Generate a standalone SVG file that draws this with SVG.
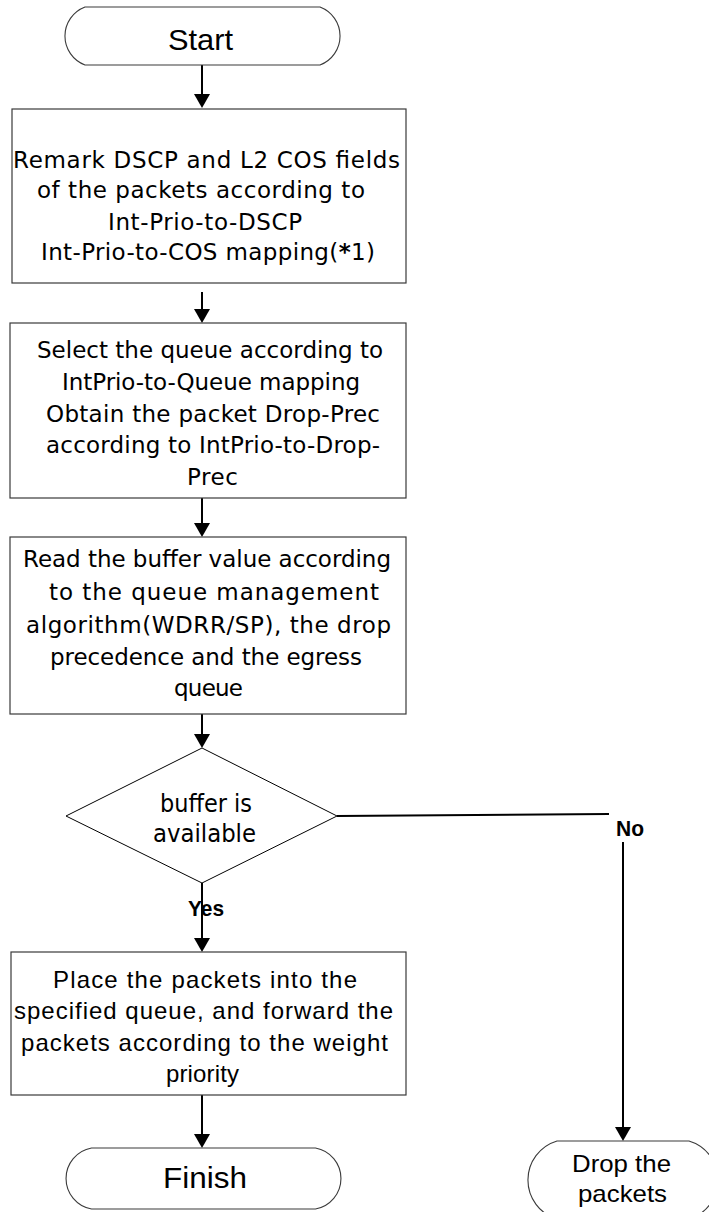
<svg xmlns="http://www.w3.org/2000/svg" width="709" height="1212" viewBox="0 0 709 1212">
<style>
.box{fill:#fff;stroke:#3a3a3a;stroke-width:1.2}
.term{fill:#fff;stroke:#3a3a3a;stroke-width:1.1}
.dia{fill:#fff;stroke:#000;stroke-width:1}
.con{fill:none;stroke:#000;stroke-width:2}
.dv{font-family:"DejaVu Sans",sans-serif;font-size:23px;fill:#000}
.dd{font-family:"DejaVu Sans",sans-serif;font-size:24px;fill:#000}
.ls{font-family:"Liberation Sans",Arial,sans-serif;font-size:24px;fill:#000}
.big{font-family:"Liberation Sans",Arial,sans-serif;font-size:30px;fill:#000}
.lbl{font-family:"Liberation Sans",Arial,sans-serif;font-size:22px;font-weight:bold;fill:#000}
</style>
<defs>
<marker id="arr" viewBox="0 0 14 16" refX="12" refY="8" markerWidth="14" markerHeight="16" markerUnits="userSpaceOnUse" orient="auto">
<path d="M0,0 L14,8 L0,16 Z" fill="#000"/>
</marker>
</defs>
<rect width="709" height="1212" fill="#fff"/>

<g id="connectors">
<line class="con" x1="202" y1="65" x2="202" y2="106" marker-end="url(#arr)"/>
<line class="con" x1="202" y1="292" x2="202" y2="321" marker-end="url(#arr)"/>
<line class="con" x1="202" y1="498" x2="202" y2="535" marker-end="url(#arr)"/>
<line class="con" x1="202" y1="714" x2="202" y2="746" marker-end="url(#arr)"/>
<line class="con" x1="202" y1="883" x2="202" y2="950" marker-end="url(#arr)"/>
<line class="con" x1="202" y1="1095" x2="202" y2="1146" marker-end="url(#arr)"/>
<line class="con" x1="337" y1="816" x2="609" y2="814"/>
<line class="con" x1="623" y1="842" x2="623" y2="1139" marker-end="url(#arr)"/>
<text class="lbl" x="188" y="916" textLength="36" lengthAdjust="spacingAndGlyphs">Yes</text>
<text class="lbl" x="616" y="836" textLength="28" lengthAdjust="spacingAndGlyphs">No</text>
</g>

<g id="start">
<path class="term" d="M85,7 H320 A31,31 0 0 1 320,65 H85 A31,31 0 0 1 85,7 Z"/>
<text class="big" x="168" y="50" textLength="65" lengthAdjust="spacingAndGlyphs">Start</text>
</g>

<g id="remark">
<rect class="box" x="12" y="109" width="394" height="174"/>
<text class="dv" x="13" y="168" textLength="387" lengthAdjust="spacing">Remark DSCP and L2 COS fields</text>
<text class="dv" x="37" y="198" textLength="328" lengthAdjust="spacing">of the packets according to</text>
<text class="dv" x="108" y="230" textLength="194" lengthAdjust="spacing">Int-Prio-to-DSCP</text>
<text class="dv" x="41" y="260" textLength="334" lengthAdjust="spacing">Int-Prio-to-COS mapping(<tspan font-weight="bold">*</tspan>1)</text>
</g>

<g id="select">
<rect class="box" x="10" y="323" width="396" height="175"/>
<text class="dv" x="37" y="358" textLength="346" lengthAdjust="spacing">Select the queue according to</text>
<text class="dv" x="62" y="390" textLength="298" lengthAdjust="spacing">IntPrio-to-Queue mapping</text>
<text class="dv" x="46" y="422" textLength="334" lengthAdjust="spacing">Obtain the packet Drop-Prec</text>
<text class="dv" x="46" y="453" textLength="334" lengthAdjust="spacing">according to IntPrio-to-Drop-</text>
<text class="dv" x="187" y="485" textLength="51" lengthAdjust="spacing">Prec</text>
</g>

<g id="read">
<rect class="box" x="10" y="537" width="396" height="177"/>
<text class="dv" x="23" y="567" textLength="368" lengthAdjust="spacing">Read the buffer value according</text>
<text class="dv" x="49" y="600" textLength="330" lengthAdjust="spacing">to the queue management</text>
<text class="dv" x="26" y="633" textLength="365" lengthAdjust="spacing">algorithm(WDRR/SP), the drop</text>
<text class="dv" x="50" y="665" textLength="312" lengthAdjust="spacing">precedence and the egress</text>
<text class="dv" x="174" y="696" textLength="69" lengthAdjust="spacing">queue</text>
</g>

<g id="decision">
<polygon class="dia" points="202,748 337,816 202,883 66,816"/>
<text class="dd" x="160" y="812" textLength="92" lengthAdjust="spacingAndGlyphs">buffer is</text>
<text class="dd" x="153" y="842" textLength="103" lengthAdjust="spacingAndGlyphs">available</text>
</g>

<g id="place">
<rect class="box" x="11" y="952" width="395" height="143"/>
<text class="ls" x="53" y="988" textLength="304" lengthAdjust="spacing">Place the packets into the</text>
<text class="ls" x="14" y="1019" textLength="379" lengthAdjust="spacing">specified queue, and forward the</text>
<text class="ls" x="21" y="1051" textLength="367" lengthAdjust="spacing">packets according to the weight</text>
<text class="ls" x="166" y="1082" textLength="73" lengthAdjust="spacing">priority</text>
</g>

<g id="finish">
<path class="term" d="M91.5,1148 H315.5 A31,31 0 0 1 315.5,1209 H91.5 A31,31 0 0 1 91.5,1148 Z"/>
<text class="big" x="163" y="1188" textLength="84" lengthAdjust="spacingAndGlyphs">Finish</text>
</g>

<g id="drop">
<path class="term" d="M557,1141 H689 A40.7,40.7 0 0 1 689,1219 H557 A40.7,40.7 0 0 1 557,1141 Z"/>
<text class="ls" x="572" y="1172" textLength="99" lengthAdjust="spacingAndGlyphs">Drop the</text>
<text class="ls" x="578" y="1202" textLength="89" lengthAdjust="spacingAndGlyphs">packets</text>
</g>
</svg>
